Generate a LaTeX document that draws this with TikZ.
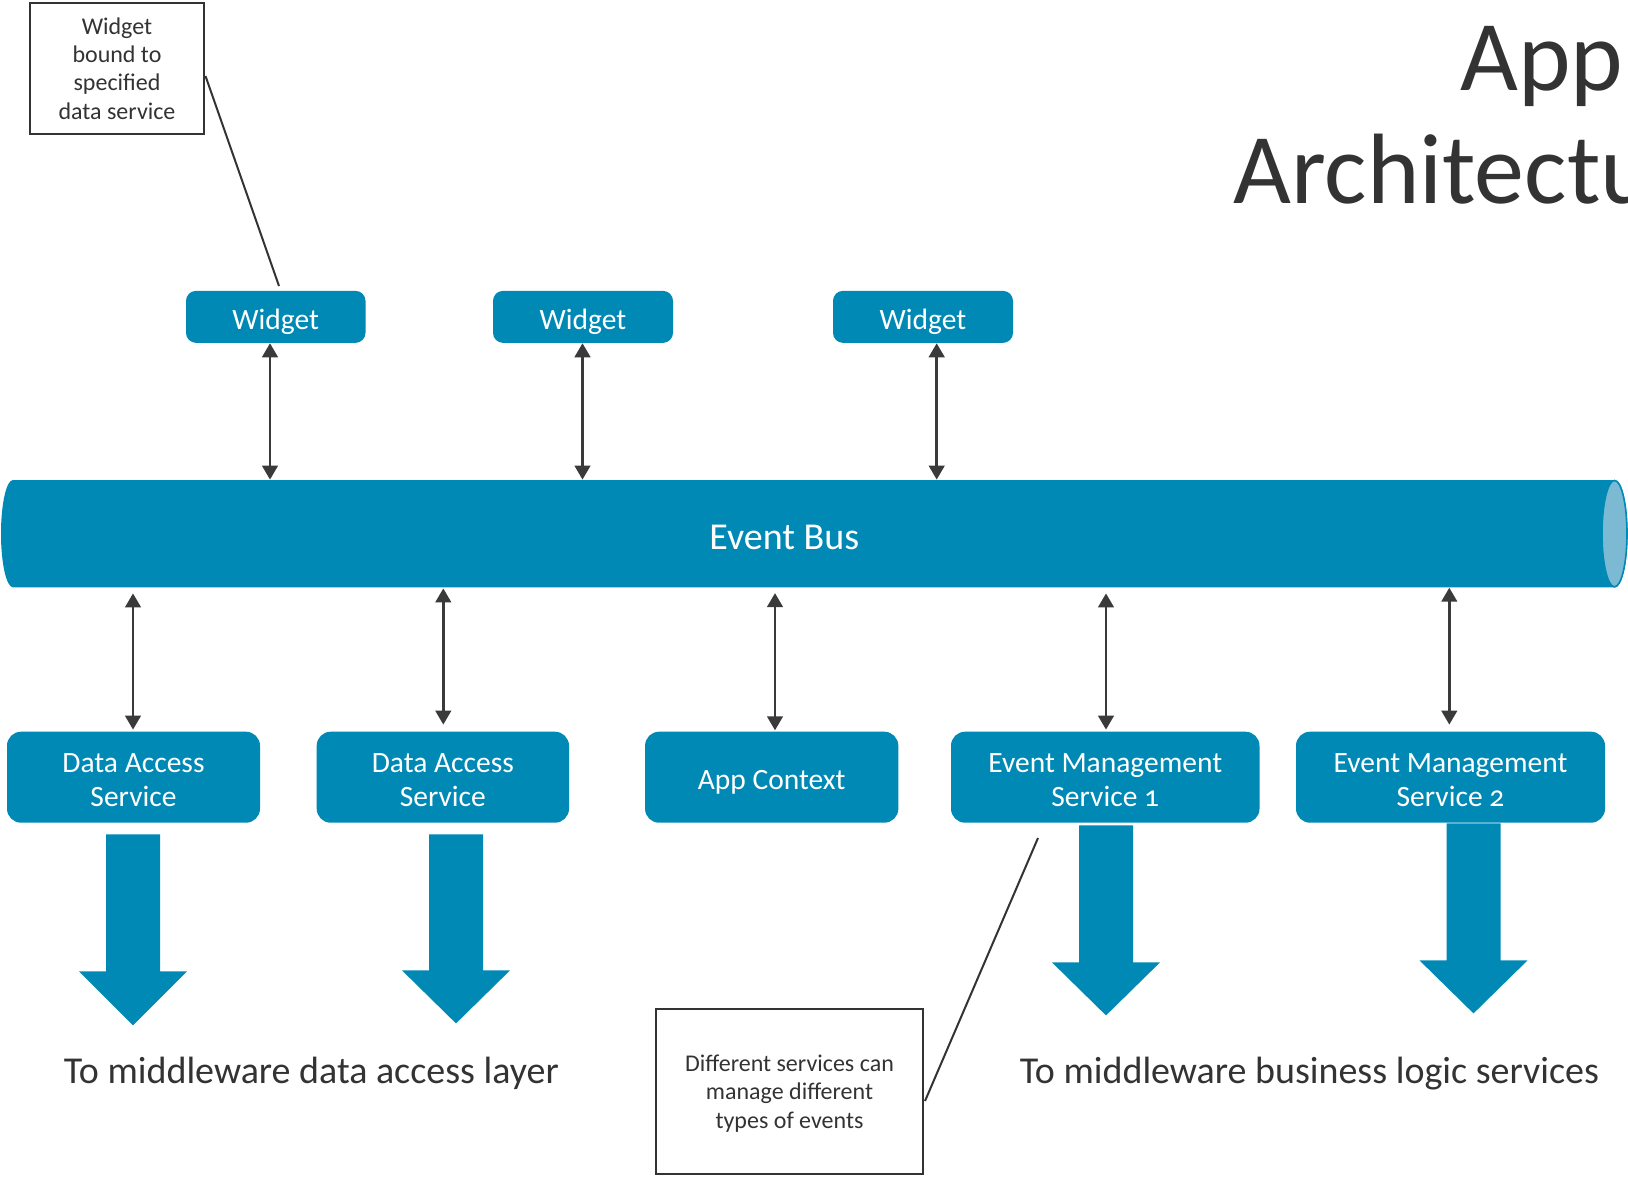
\documentclass[tikz,border=0pt]{standalone}
\usepackage{fontspec}
\setmainfont{Carlito}[Numbers=OldStyle]
\usetikzlibrary{arrows.meta,calc}
\definecolor{busblue}{RGB}{0,137,181}
\definecolor{buscap}{RGB}{124,186,212}
\definecolor{ink}{RGB}{51,51,51}
\definecolor{linkgray}{RGB}{58,58,58}

% broad downward flow arrow below a service box
% #1 node, #2 x offset, #3 gap below the box, #4 shaft length, #5 head height
\newcommand\flowarrow[5]{%
  \fill[busblue] ($(#1.south)+(#2-27,#3)$) -- ++(54,0) -- ++(0,#4) -- ++(27,0)
    -- ++(-54,#5) -- ++(-54,-#5) -- ++(27,0) -- cycle;}

\begin{document}
\begin{tikzpicture}[x=0.5pt,y=-0.5pt,
  widget/.style={fill=busblue, rounded corners=5pt, minimum height=26pt, inner sep=0pt},
  service/.style={fill=busblue, rounded corners=7pt, minimum height=45.5pt, inner sep=0pt},
  boxtext/.style={text=white, font=\fontsize{14.75}{17}\selectfont, align=center,
    inner sep=0pt, text depth=0pt, yshift=-1.5pt},
  note/.style={draw=ink, line width=1pt, text=ink,
    font=\fontsize{12}{14.1}\selectfont, align=center, inner sep=0pt, text depth=0pt},
  link/.style={draw=linkgray, line width=1.3pt,
    {Triangle[width=7.8pt,length=7pt]}-{Triangle[width=7.8pt,length=7pt]}},
  leader/.style={draw=ink, line width=1pt},
  caption/.style={text=ink, font=\fontsize{19}{22}\selectfont, inner sep=0pt},
]
\useasboundingbox (0,0) rectangle (1628,1178);

% title, running off the right edge
\begin{scope}
  \clip (0,0) rectangle (1628,1178);
  \node[anchor=base west, inner sep=0pt, text=ink, font=\fontsize{50}{60}\selectfont]
    (title1) at (1460,90) {App};
  \node[anchor=base west, inner sep=0pt, text=ink, font=\fontsize{50}{60}\selectfont]
    (title2) at (1233,203) {Architecture};
\end{scope}

% event bus drawn as a horizontal cylinder
\fill[busblue] (13,480) -- (1615,480)
  arc[start angle=90, end angle=-90, x radius=6.25pt, y radius=26.83pt]
  -- (13,587.3)
  arc[start angle=270, end angle=90, x radius=6pt, y radius=26.83pt] -- cycle;
\filldraw[fill=buscap, draw=busblue, line width=0.8pt]
  (1614.5,533.65) ellipse [x radius=6.25pt, y radius=26.6pt];
\node[inner sep=0pt, minimum width=813pt, minimum height=53.65pt] (bus) at (814,533.65) {};
\node[text=white, font=\fontsize{19}{22}\selectfont] (buslabel) at (784.3,537) {Event Bus};

% widgets
\node[widget, minimum width=89.75pt, label={[boxtext, yshift=0.5pt]center:Widget}] (w1) at (275.75,316.85) {};
\node[widget, minimum width=90pt, label={[boxtext, yshift=0.5pt]center:Widget}] (w2) at (583,316.85) {};
\node[widget, minimum width=90pt, label={[boxtext, yshift=0.5pt]center:Widget}] (w3) at (923,316.85) {};

% services
\node[service, minimum width=126.5pt, label={[boxtext]center:{Data Access\\Service}}] (das1) at (133.5,777.2) {};
\node[service, minimum width=126.15pt, label={[boxtext]center:{Data Access\\Service}}] (das2) at (442.85,777.2) {};
\node[service, minimum width=126.65pt, label={[boxtext]center:{App Context}}] (ctx) at (771.7,777.2) {};
\node[service, minimum width=154.25pt, label={[boxtext]center:{Event Management\\Service 1}}] (ems1) at (1105.25,777.2) {};
\node[service, minimum width=154.5pt, label={[boxtext]center:{Event Management\\Service 2}}] (ems2) at (1450.5,777.2) {};

% widget <-> bus
\draw[link] ($(w1.south)+(-5.75,0)$) coordinate (a1) -- (a1 |- bus.north);
\draw[link] ($(w2.south)+(-0.5,0)$) coordinate (a2) -- (a2 |- bus.north);
\draw[link] ($(w3.south)+(13.7,0)$) coordinate (a3) -- (a3 |- bus.north);

% bus <-> services
\draw[link, shorten <=2.85pt, shorten >=0.85pt] ($(das1.north)+(-0.5,0)$) coordinate (b1) (b1 |- bus.south) -- (b1);
\draw[link, shorten <=0.35pt, shorten >=3.35pt] ($(das2.north)+(0.45,0)$) coordinate (b2) (b2 |- bus.south) -- (b2);
\draw[link, shorten <=2.7pt, shorten >=0.5pt] ($(ctx.north)+(3.3,0)$) coordinate (b3) (b3 |- bus.south) -- (b3);
\draw[link, shorten <=2.85pt, shorten >=0.85pt] ($(ems1.north)+(0.75,0)$) coordinate (b4) (b4 |- bus.south) -- (b4);
\draw[link, shorten >=3.35pt] ($(ems2.north)+(-1.2,0)$) coordinate (b5) (b5 |- bus.south) -- (b5);

% flow arrows towards the middleware
\flowarrow{das1}{-0.5}{11.3}{137}{54}
\flowarrow{das2}{13.15}{11.3}{136}{53}
\flowarrow{ems1}{0.75}{2.3}{137}{53}
\flowarrow{ems2}{23}{0.3}{137}{53}

\node[caption, anchor=base] (cap1) at (311.3,1083) {To middleware data access layer};
\node[caption, anchor=base] (cap2) at (1309.4,1083) {To middleware business logic services};

% callouts
\node[note, minimum width=87pt, minimum height=65.5pt] (note1) at (117,68.5)
  {Widget\\bound to\\specified\\data service};
\coordinate (n1end) at (279,286);
\draw[leader] ($(note1.east)+(0.5,7.5)$) -- (n1end);

\node[note, minimum width=133.5pt, minimum height=82.5pt] (note2) at (789.5,1091.5)
  {Different services can\\manage different\\types of events};
\coordinate (n2end) at (1038,838);
\draw[leader] ($(note2.east)+(1,9.5)$) -- (n2end);
\end{tikzpicture}
\end{document}
